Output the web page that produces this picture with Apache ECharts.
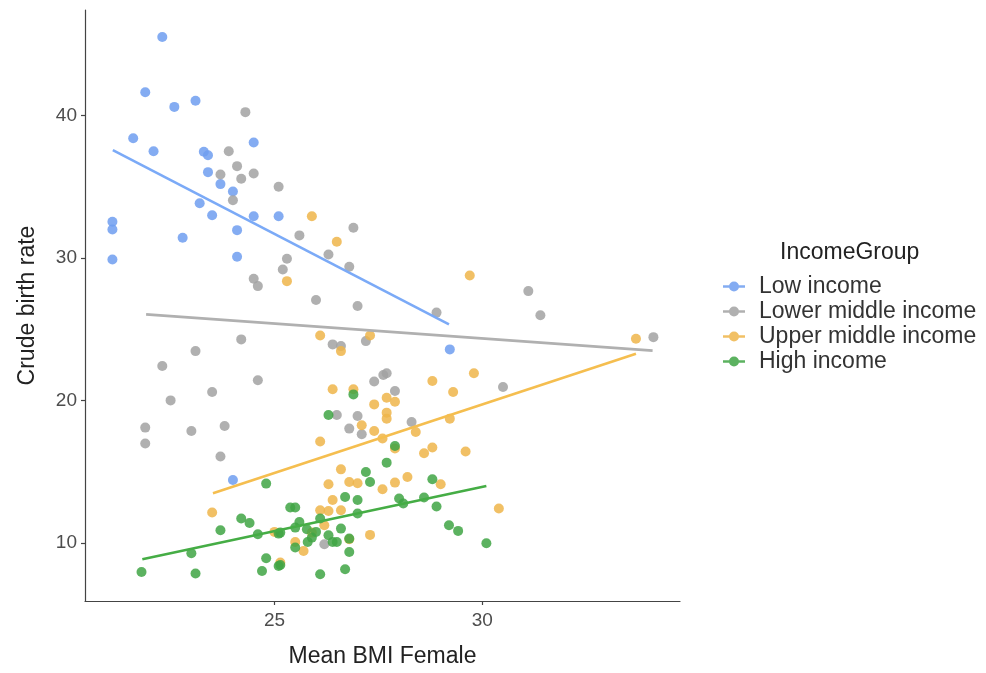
<!DOCTYPE html>
<html>
<head>
<meta charset="utf-8">
<script src="https://cdn.jsdelivr.net/npm/echarts@6/dist/echarts.min.js"></script>
<style>html,body{margin:0;padding:0;background:#fff}#c{width:986px;height:673px}</style>
</head>
<body>
<div id="c"></div>
<script>
const groupNames = ['Low income', 'Lower middle income', 'Upper middle income', 'High income'];
const xTicks = [25, 30];
const yTicks = [10, 20, 30, 40];

const lowIncome = [
  [22.30,45.53],[21.89,41.65],[22.59,40.62],[23.10,41.05],[21.60,38.42],[22.09,37.51],
  [23.30,37.47],[23.40,37.23],[24.50,38.12],[23.40,36.04],[23.70,35.20],[24.00,34.68],
  [23.20,33.86],[23.50,33.02],[24.50,32.95],[25.10,32.95],[21.10,32.56],[21.10,32.02],
  [21.10,29.91],[22.79,31.44],[24.10,31.97],[24.10,30.10],[29.22,23.60],[24.00,14.43]
];
const lowerMiddle = [
  [24.30,40.25],[23.90,37.51],[24.10,36.46],[23.70,35.88],[24.20,35.57],[24.50,35.95],
  [25.10,35.01],[24.00,34.07],[26.90,32.14],[25.60,31.60],[26.30,30.26],[25.30,29.96],
  [25.20,29.21],[26.80,29.40],[26.00,27.06],[27.00,26.64],[28.90,26.18],[26.40,23.95],
  [26.60,23.83],[27.20,24.18],[27.40,21.34],[27.62,21.80],[27.70,21.92],[27.90,20.68],
  [24.50,28.56],[24.60,28.04],[24.20,24.30],[23.10,23.48],[22.30,22.43],[24.60,21.43],
  [23.50,20.61],[22.50,20.02],[21.89,18.11],[23.00,17.87],[23.80,18.22],[21.89,16.99],
  [23.70,16.08],[26.50,18.99],[27.00,18.92],[26.80,18.04],[27.10,17.64],[28.30,18.50],
  [26.20,9.92],[31.11,27.69],[31.40,25.99],[34.12,24.46],[30.50,20.96]
];
const upperMiddle = [
  [25.90,32.95],[26.50,31.16],[25.30,28.39],[29.70,28.79],[26.10,24.58],[27.30,24.58],
  [26.60,23.48],[28.80,21.38],[29.80,21.92],[29.30,20.61],[26.40,20.80],[26.90,20.80],
  [27.40,19.74],[27.70,20.21],[27.90,19.93],[33.70,24.35],[27.70,19.16],[27.70,18.74],
  [27.10,18.27],[27.40,17.87],[27.60,17.34],[28.40,17.80],[29.22,18.74],[26.10,17.13],
  [27.90,16.64],[28.60,16.31],[28.80,16.71],[29.60,16.43],[26.60,15.18],[26.30,14.13],
  [26.80,14.29],[27.00,14.20],[27.60,13.78],[27.90,14.25],[28.20,14.64],[29.00,14.13],
  [26.40,13.03],[26.10,12.31],[26.30,12.26],[26.60,12.31],[26.20,11.26],[25.90,10.74],
  [27.30,10.58],[26.80,10.27],[25.50,10.08],[25.70,9.45],[25.14,8.64],[23.50,12.15],
  [25.00,10.79],[30.40,12.43]
];
const highIncome = [
  [26.90,20.44],[24.80,14.18],[24.20,11.73],[24.40,11.42],[23.70,10.91],[24.60,10.63],
  [25.10,10.67],[23.00,9.29],[21.80,7.98],[23.10,7.87],[24.80,8.94],[24.70,8.05],
  [25.10,8.40],[26.30,18.99],[27.90,16.82],[27.70,15.65],[27.20,14.99],[27.30,14.29],
  [28.80,14.48],[26.70,13.24],[27.00,13.03],[28.00,13.13],[28.10,12.78],[28.60,13.20],
  [28.90,12.57],[25.38,12.50],[25.50,12.50],[27.00,12.08],[26.10,11.73],[25.60,11.49],
  [25.50,11.09],[25.14,10.74],[26.60,11.02],[25.78,10.98],[26.00,10.79],[26.30,10.56],
  [25.90,10.39],[25.80,10.08],[26.80,10.32],[26.40,10.08],[26.50,10.08],[25.50,9.69],
  [26.80,9.38],[25.14,8.47],[26.10,7.82],[26.70,8.17],[29.20,11.26],[29.42,10.86],
  [30.10,9.99]
];

const lowFit = [[21.11,37.58],[29.20,25.35]];
const lowerMiddleFit = [[21.91,26.06],[34.10,23.51]];
const upperMiddleFit = [[23.52,13.50],[33.70,23.30]];
const highFit = [[21.82,8.87],[30.10,14.01]];

const pointColors = ['#6E9EF0', '#A2A2A2', '#EFB54A', '#3FA444'];
const lineColors = ['#7BAAF7', '#B0B0B0', '#F5BE4F', '#45AD45'];
const pointSets = [lowIncome, lowerMiddle, upperMiddle, highIncome];
const fitSets = [lowFit, lowerMiddleFit, upperMiddleFit, highFit];

const legendIcon = 'path://M0,3.8 L7,3.8 L7,6.2 L0,6.2 Z M15,3.8 L22,3.8 L22,6.2 L15,6.2 Z M6,5 A5,5 0 1,1 16,5 A5,5 0 1,1 6,5 Z';

const series = [];
pointSets.forEach((d, i) => {
  series.push({
    name: groupNames[i], type: 'scatter', data: d, symbolSize: 10,
    itemStyle: { color: pointColors[i], opacity: 0.85 }, z: 2
  });
});
fitSets.forEach((d, i) => {
  series.push({
    name: groupNames[i] + ' fit', type: 'line', data: d, showSymbol: false, symbol: 'none',
    lineStyle: { color: lineColors[i], width: 2.6 }, z: 3, silent: true
  });
});

const chart = echarts.init(document.getElementById('c'), null, { renderer: 'canvas' });
chart.setOption({
  animation: false,
  backgroundColor: '#ffffff',
  textStyle: { fontFamily: 'Liberation Sans, Arial, sans-serif' },
  title: {
    text: 'IncomeGroup', left: 775, top: 236,
    textStyle: { fontSize: 23, fontWeight: 'normal', color: '#222', fontFamily: 'Liberation Sans, Arial, sans-serif' }
  },
  legend: {
    data: groupNames.map((n) => ({ name: n, icon: legendIcon })),
    orient: 'vertical', left: 718, top: 270,
    itemWidth: 22, itemHeight: 10, itemGap: 2,
    textStyle: { fontSize: 23, lineHeight: 23, color: '#333', padding: [0, 0, 0, 9], fontFamily: 'Liberation Sans, Arial, sans-serif' }
  },
  grid: { left: 85, top: 10, width: 595, height: 592, containLabel: false },
  xAxis: {
    type: 'value', min: 20.44, max: 34.76,
    name: 'Mean BMI Female', nameLocation: 'middle', nameGap: 44,
    nameTextStyle: { fontSize: 23, color: '#222' },
    axisLine: { show: true, lineStyle: { color: '#444', width: 1.2 } },
    axisTick: { show: true, length: 4, lineStyle: { color: '#444', width: 1.2 }, customValues: xTicks },
    axisLabel: { fontSize: 19, color: '#4d4d4d', margin: 10, customValues: xTicks },
    splitLine: { show: false }
  },
  yAxis: {
    type: 'value', min: 5.94, max: 47.42,
    name: 'Crude birth rate', nameLocation: 'middle', nameGap: 46, nameRotate: 90,
    nameTextStyle: { fontSize: 23, color: '#222' },
    axisLine: { show: true, lineStyle: { color: '#444', width: 1.2 } },
    axisTick: { show: true, length: 4, lineStyle: { color: '#444', width: 1.2 }, customValues: yTicks },
    axisLabel: { fontSize: 19, color: '#4d4d4d', margin: 8, customValues: yTicks },
    splitLine: { show: false }
  },
  series: series
});
</script>
</body>
</html>
